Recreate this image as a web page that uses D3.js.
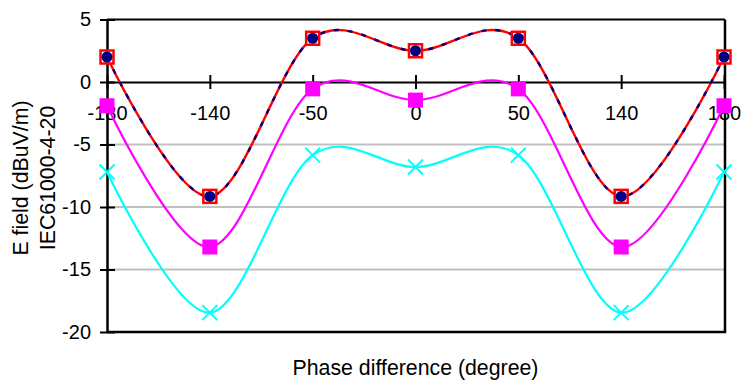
<!DOCTYPE html>
<html>
<head>
<meta charset="utf-8">
<script src="https://cdn.jsdelivr.net/npm/d3@7"></script>
<style>
  html, body { margin: 0; padding: 0; background: #fff; }
  svg { display: block; font-family: Arial, "Liberation Sans", sans-serif; }
</style>
</head>
<body>
<svg id="chart" width="742" height="381"></svg>
<script>
// Phase difference categories (evenly spaced on the axis)
const categories = ["-180", "-140", "-50", "0", "50", "140", "180"];

// E field series (dBuV/m)
const redSeries     = [2.0, -9.15, 3.5, 2.5, 3.5, -9.15, 2.0];
const navySeries    = [2.0, -9.15, 3.5, 2.5, 3.5, -9.15, 2.0];
const magentaSeries = [-1.9, -13.2, -0.55, -1.45, -0.55, -13.2, -1.9];
const cyanSeries    = [-7.2, -18.45, -5.85, -6.8, -5.85, -18.45, -7.2];

const yTicks = [5, 0, -5, -10, -15, -20];

const FONT = "Arial, 'Liberation Sans', sans-serif";
const TICK_FS = 20;
const TITLE_FS = 21.3;

const svg = d3.select("#chart");
const plotLeft = 107, plotRight = 724, plotTop = 19.5, plotBottom = 332;

const x = d3.scalePoint().domain(categories).range([plotLeft, plotRight]);
const y = d3.scaleLinear().domain([-20, 5]).range([plotBottom, plotTop]);

// gridlines
svg.append("g").selectAll("line")
  .data(yTicks.filter(t => t !== 5 && t !== 0 && t !== -20))
  .join("line")
  .attr("x1", plotLeft).attr("x2", plotRight + 1)
  .attr("y1", d => y(d)).attr("y2", d => y(d))
  .attr("stroke", "#c0c0c0").attr("stroke-width", 2);

// plot frame: top, right, bottom
svg.append("line").attr("x1", plotLeft).attr("x2", plotRight + 1).attr("y1", y(5)).attr("y2", y(5))
  .attr("stroke", "#000").attr("stroke-width", 2);
svg.append("line").attr("x1", plotRight + 1).attr("x2", plotRight + 1).attr("y1", y(5)).attr("y2", y(-20) + 1)
  .attr("stroke", "#000").attr("stroke-width", 2.5);
svg.append("line").attr("x1", plotLeft).attr("x2", plotRight + 2).attr("y1", y(-20)).attr("y2", y(-20))
  .attr("stroke", "#000").attr("stroke-width", 2.5);

// y axis (cross ticks)
const yAxis = d3.axisLeft(y).tickValues(yTicks).tickSize(0).tickPadding(16).tickFormat(d => String(d));
const gy = svg.append("g").attr("transform", `translate(${plotLeft},0)`).call(yAxis);
gy.attr("font-size", TICK_FS).attr("font-family", FONT);
gy.select(".domain").attr("stroke", "#000").attr("stroke-width", 2.5);
gy.selectAll(".tick line").attr("x1", -7).attr("x2", 8).attr("stroke", "#000").attr("stroke-width", 2);
gy.selectAll(".tick text").attr("fill", "#000").attr("x", -16);

// x axis crossing at zero (cross ticks)
const xAxis = d3.axisBottom(x).tickSize(0).tickPadding(0);
const gx = svg.append("g").attr("transform", `translate(0,${y(0)})`).call(xAxis);
gx.attr("font-size", TICK_FS).attr("font-family", FONT);
gx.select(".domain").attr("stroke", "#000").attr("stroke-width", 2);
gx.selectAll(".tick line").attr("y1", -7).attr("y2", 7).attr("stroke", "#000").attr("stroke-width", 2);
gx.selectAll(".tick text").attr("fill", "#000").attr("y", 38).attr("dy", 0);

// smoothed lines
const line = d3.line()
  .x((d, i) => x(categories[i]))
  .y(d => y(d))
  .curve(d3.curveCardinal.tension(0));

svg.append("path").attr("d", line(cyanSeries)).attr("fill", "none")
  .attr("stroke", "#00ffff").attr("stroke-width", 2.2);
svg.append("path").attr("d", line(magentaSeries)).attr("fill", "none")
  .attr("stroke", "#ff00ff").attr("stroke-width", 2.2);
svg.append("path").attr("d", line(redSeries)).attr("fill", "none")
  .attr("stroke", "#ff0000").attr("stroke-width", 2.4);
svg.append("path").attr("d", line(navySeries)).attr("fill", "none")
  .attr("stroke", "#000080").attr("stroke-width", 2.4).attr("stroke-dasharray", "5,9");

// markers: cyan crosses
svg.append("g").selectAll("path").data(cyanSeries).join("path")
  .attr("d", (d, i) => {
    const cx = x(categories[i]), cy = y(d), s = 7.5;
    return `M${cx - s},${cy - s}L${cx + s},${cy + s}M${cx - s},${cy + s}L${cx + s},${cy - s}`;
  })
  .attr("stroke", "#00ffff").attr("stroke-width", 2).attr("fill", "none");

// magenta filled squares
svg.append("g").selectAll("rect").data(magentaSeries).join("rect")
  .attr("x", (d, i) => x(categories[i]) - 7.5).attr("y", d => y(d) - 7.5)
  .attr("width", 15).attr("height", 15).attr("fill", "#ff00ff");

// red open squares
svg.append("g").selectAll("rect").data(redSeries).join("rect")
  .attr("x", (d, i) => x(categories[i]) - 6.5).attr("y", d => y(d) - 6.5)
  .attr("width", 13).attr("height", 13).attr("fill", "#fff")
  .attr("stroke", "#ff0000").attr("stroke-width", 2.5);

// navy dots
svg.append("g").selectAll("circle").data(navySeries).join("circle")
  .attr("cx", (d, i) => x(categories[i])).attr("cy", d => y(d))
  .attr("r", 5.5).attr("fill", "#000080");

// axis titles
svg.append("text").attr("x", 415.5).attr("y", 375).attr("text-anchor", "middle")
  .attr("font-family", FONT).attr("font-size", TITLE_FS).attr("fill", "#000")
  .text("Phase difference (degree)");

const yt = svg.append("text").attr("transform", "translate(28,178) rotate(-90)")
  .attr("text-anchor", "middle").attr("font-family", FONT).attr("font-size", TITLE_FS).attr("fill", "#000");
yt.append("tspan").attr("x", 0).attr("dy", 0).text("E field (dBuV/m)");
yt.append("tspan").attr("x", 0).attr("dy", 27).text("IEC61000-4-20");
</script>
</body>
</html>
